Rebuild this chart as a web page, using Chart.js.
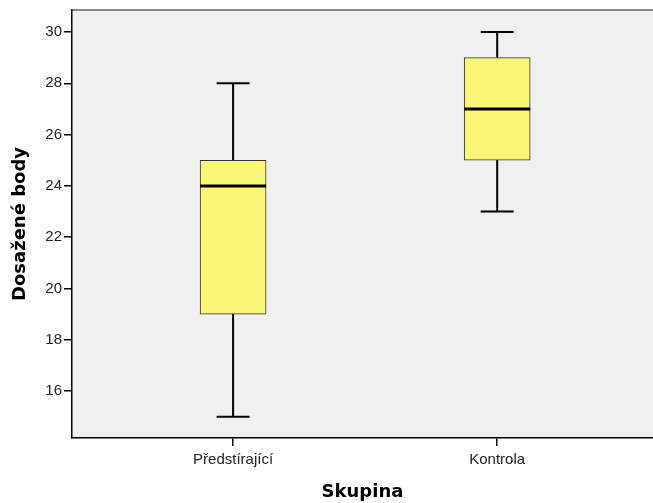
<!DOCTYPE html>
<html>
<head>
<meta charset="utf-8">
<script src="https://cdn.jsdelivr.net/npm/chart.js@4/dist/chart.umd.min.js"></script>
<style>
html,body{margin:0;padding:0;background:#fff;}
#wrap{width:653px;height:503px;}
</style>
</head>
<body>
<div id="wrap"><canvas id="c" width="653" height="503"></canvas></div>
<script>
const categories = ["Předstírající", "Kontrola"];
const minValues = [15, 23];
const q1Values = [19, 25];
const medianValues = [24, 27];
const q3Values = [25, 29];
const maxValues = [28, 30];
const yTicks = [16, 18, 20, 22, 24, 26, 28, 30];

const FONT = "'Liberation Sans', Arial, sans-serif";
const TITLE_FONT = "'DejaVu Sans', Verdana, sans-serif";

const datasets = [];
categories.forEach((c, i) => {
  datasets.push({
    type: 'scatter',
    data: [{x: i, y: minValues[i]}, {x: i, y: maxValues[i]}],
    showLine: true,
    borderColor: '#000',
    borderWidth: 2,
    pointStyle: 'line',
    pointRadius: 16.5,
    pointBorderWidth: 2,
    pointBorderColor: '#000',
    pointHoverRadius: 16.5,
    order: 3
  });
});
datasets.push({
  type: 'bar',
  data: categories.map((c, i) => ({x: i, y: [q1Values[i], q3Values[i]]})),
  backgroundColor: '#fbf776',
  borderColor: '#333333',
  borderWidth: 1,
  borderSkipped: false,
  barThickness: 66,
  order: 2
});
datasets.push({
  type: 'scatter',
  data: categories.map((c, i) => ({x: i, y: medianValues[i]})),
  pointStyle: 'line',
  pointRadius: 33,
  pointBorderWidth: 3,
  pointBorderColor: '#000',
  pointBackgroundColor: '#000',
  order: 1
});

const bgPlugin = {
  id: 'bg',
  beforeDraw(chart) {
    const {ctx, chartArea: a} = chart;
    ctx.save();
    ctx.fillStyle = '#f0f0f0';
    ctx.fillRect(a.left, a.top, a.right - a.left, a.bottom - a.top);
    ctx.strokeStyle = '#8a8a8a';
    ctx.lineWidth = 2;
    ctx.beginPath();
    ctx.moveTo(a.left, a.top);
    ctx.lineTo(a.right, a.top);
    ctx.stroke();
    ctx.restore();
  }
};

function zeroPad(scale) {
  scale.paddingLeft = 0; scale.paddingRight = 0;
  scale.paddingTop = 0; scale.paddingBottom = 0;
}

new Chart(document.getElementById('c'), {
  data: { datasets },
  plugins: [bgPlugin],
  options: {
    responsive: false,
    animation: false,
    layout: { autoPadding: false, padding: { top: 10, right: 0, left: 0, bottom: 0 } },
    plugins: { legend: { display: false }, tooltip: { enabled: false } },
    scales: {
      x: {
        type: 'linear',
        offset: false,
        min: -0.61,
        max: 1.59,
        afterBuildTicks(scale) { scale.ticks = categories.map((c, i) => ({value: i})); },
        afterFit(scale) { scale.height = 65; zeroPad(scale); },
        ticks: {
          callback: (v) => categories[v] ?? '',
          color: '#222',
          font: { family: FONT, size: 15 },
          padding: 5,
          maxRotation: 0,
          autoSkip: false
        },
        grid: { offset: false, drawOnChartArea: false, drawTicks: true, tickLength: 8, color: '#000', lineWidth: 1.5 },
        border: { display: true, color: '#000', width: 1.5 },
        title: {
          display: true,
          text: 'Skupina',
          color: '#000',
          font: { family: TITLE_FONT, size: 18, weight: 'bold' },
          padding: { top: 0, bottom: 0 }
        }
      },
      y: {
        type: 'linear',
        min: 14.17,
        max: 30.86,
        afterBuildTicks(scale) { scale.ticks = yTicks.map(v => ({value: v})); },
        afterFit(scale) { scale.width = 72; zeroPad(scale); },
        ticks: {
          color: '#222',
          font: { family: FONT, size: 15 },
          padding: 2
        },
        grid: { drawOnChartArea: false, drawTicks: true, tickLength: 8, color: '#000', lineWidth: 1.5 },
        border: { display: true, color: '#000', width: 1.5 },
        title: {
          display: true,
          text: 'Dosažené body',
          color: '#000',
          font: { family: TITLE_FONT, size: 18, weight: 'bold' },
          padding: { top: 10, bottom: 0 }
        }
      }
    }
  }
});
</script>
</body>
</html>
